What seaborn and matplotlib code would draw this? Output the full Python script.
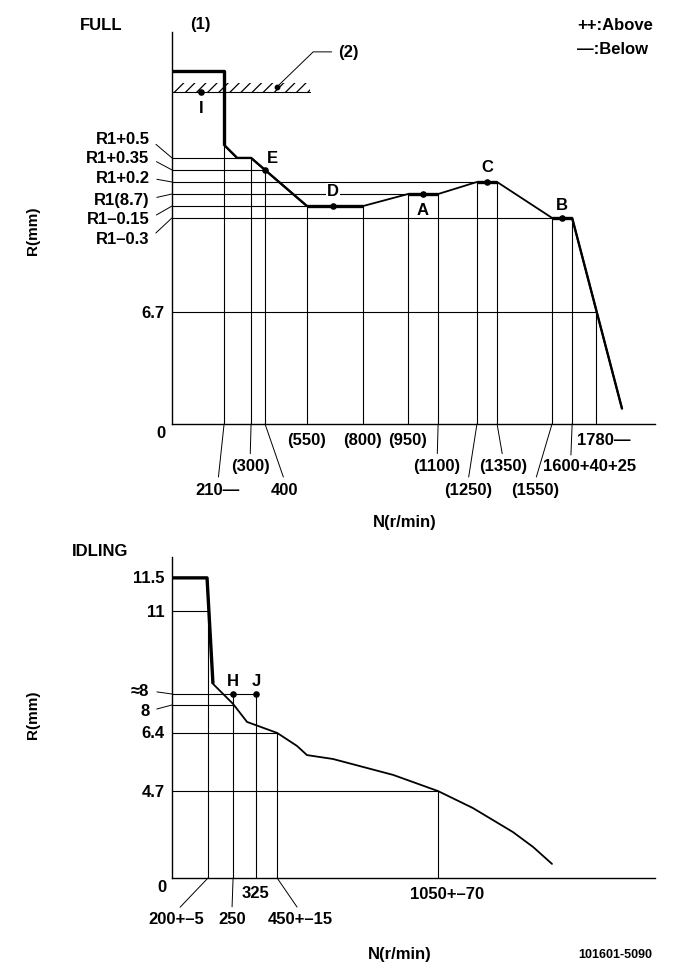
import numpy as np
import pandas as pd
import matplotlib
matplotlib.use('Agg')
import matplotlib.pyplot as plt
import seaborn as sns

# drawing units: x ~ r/min position, y ~ mm position
# ---------------- FULL ----------------
full_n = [0, 220, 220, 275, 334, 393, 570, 680, 807, 997, 1060, 1124,
          1288, 1331, 1373, 1605, 1647, 1690, 1901]
full_r = [21.14, 21.14, 16.71, 15.93, 15.93, 15.21, 13.05, 13.05, 13.05, 13.77, 13.77, 13.77,
          14.49, 14.49, 14.49, 12.34, 12.34, 12.34, 0.9]

full_levels = [15.93, 15.21, 14.49, 13.77, 13.05, 12.34, 6.7]
full_level_ends = [275, 393, 1288, 997, 570, 1605, 1791]
full_level_text = ['R1+0.5', 'R1+0.35', 'R1+0.2', 'R1(8.7)', 'R1–0.15', 'R1–0.3', '6.7']
full_level_text_y = [17.07, 15.93, 14.73, 13.47, 12.28, 11.08, 6.7]

full_speeds = [220, 334, 393, 570, 807, 997, 1124, 1288, 1373, 1605, 1690, 1791]
full_speed_tops = [16.71, 15.93, 15.21, 13.05, 13.05, 13.77, 13.77, 14.49, 14.49, 12.34, 12.34, 6.7]
full_speed_text = ['210—', '(300)', '400', '(550)', '(800)', '(950)', '(1100)', '(1250)',
                   '(1350)', '(1550)', '1600+40+25', '1780—']
full_speed_text_x = [194, 330, 477, 570, 803, 993, 1120, 1250, 1398, 1533, 1763, 1825]
full_speed_row = [3, 2, 3, 1, 1, 1, 2, 3, 2, 3, 2, 1]

full_pt_names = ['I', 'E', 'D', 'A', 'C', 'B']
full_pt_n = [122, 393, 680, 1060, 1331, 1647]
full_pt_r = [19.88, 15.21, 13.05, 13.77, 14.49, 12.34]

stop_r = 19.88
stop_n_end = 583

# ---------------- IDLING ----------------
idle_n = [0, 148, 173, 258, 317, 444, 528, 570, 680, 934, 1124, 1271, 1440, 1525, 1605]
idle_r = [11.5, 11.5, 7.44, 6.67, 5.98, 5.56, 5.06, 4.71, 4.56, 3.95, 3.33, 2.68, 1.76, 1.19, 0.54]

idle_levels = [10.23, 7.05, 6.63, 5.56, 3.33]
idle_level_ends = [152, 355, 258, 444, 1124]
idle_level_text = ['11.5', '11', '≈8', '8', '6.4', '4.7']
idle_level_text_y = [11.5, 10.23, 7.17, 6.40, 5.56, 3.33]

idle_speeds = [152, 258, 355, 444, 1124]
idle_speed_tops = [10.23, 7.05, 7.05, 5.56, 3.33]
idle_speed_text = ['200+–5', '250', '325', '450+–15', '1050+–70']
idle_speed_text_x = [17, 253, 351, 541, 1162]
idle_speed_text_y = [-1.57, -1.57, -0.54, -1.57, -0.61]

idle_pt_names = ['H', 'J']
idle_pt_n = [258, 355]
idle_pt_r = [7.05, 7.05]

# ---------------- style ----------------
sns.set_style('white')
plt.rcParams['font.family'] = ['Liberation Sans', 'DejaVu Sans']
plt.rcParams['font.weight'] = 'bold'
plt.rcParams['text.color'] = 'black'
plt.rcParams['hatch.linewidth'] = 0.9
FS = 12
THIN = 0.8
lead = dict(arrowstyle='-', lw=0.7, color='black', shrinkA=1, shrinkB=0)

W, H = 681, 979
fig = plt.figure(figsize=(6.81, 9.79), dpi=100)
ax1 = fig.add_axes([172 / W, 1 - 425 / H, 483 / W, 392 / H])
ax2 = fig.add_axes([172 / W, 1 - 879 / H, 483 / W, 321 / H])

for ax, top in [(ax1, 23.47), (ax2, 12.30)]:
    ax.set_xlim(0, 2040)
    ax.set_ylim(0, top)
    ax.set_xticks([])
    ax.set_yticks([])
    sns.despine(ax=ax)
    for s in ['left', 'bottom']:
        ax.spines[s].set_color('black')
        ax.spines[s].set_linewidth(1.0)

# ---- FULL panel ----
for y, xe in zip(full_levels, full_level_ends):
    ax1.plot([0, xe], [y, y], color='black', lw=THIN)
for x, yt in zip(full_speeds, full_speed_tops):
    ax1.plot([x, x], [0, yt], color='black', lw=THIN)

sns.lineplot(x=full_n, y=full_r, ax=ax1, sort=False, estimator=None,
             color='black', lw=1.3)
for i0, i1, w in [(0, 2, 2.4), (2, 6, 1.7), (6, 8, 2.4), (9, 11, 2.4),
                  (12, 14, 2.4), (15, 17, 2.4), (17, 18, 1.7)]:
    ax1.plot(full_n[i0:i1 + 1], full_r[i0:i1 + 1], color='black', lw=w,
             solid_capstyle='butt')

# stopper line with hatching
ax1.plot([0, stop_n_end], [stop_r, stop_r], color='black', lw=THIN)
ax1.fill_between([0, stop_n_end], stop_r, stop_r + 0.54, facecolor='none',
                 edgecolor='black', hatch='///', linewidth=0)
ax1.scatter([443], [20.18], s=10, color='black', zorder=5)
ax1.annotate('(2)', xy=(443, 20.18), xytext=(700, 22.28), ha='left', va='center',
             fontsize=FS, annotation_clip=False,
             arrowprops=dict(arrowstyle='-', lw=0.7, color='black', shrinkA=2, shrinkB=0,
                             relpos=(0, 0.5), connectionstyle='angle,angleA=0,angleB=44,rad=0'))

ax1.scatter(full_pt_n, full_pt_r, s=14, color='black', zorder=5)
pt_off = {'I': (0, -11), 'E': (5, 9), 'D': (0, 11), 'A': (0, -11), 'C': (0, 11), 'B': (0, 10)}
for name, x, y in zip(full_pt_names, full_pt_n, full_pt_r):
    dx, dy = pt_off[name]
    t = ax1.annotate(name, (x, y), xytext=(dx, dy), textcoords='offset points',
                     ha='center', va='center', fontsize=FS)
    if name == 'D':
        t.set_bbox(dict(facecolor='white', edgecolor='none', pad=0.5))

for txt, ty, y in zip(full_level_text, full_level_text_y, full_levels):
    if txt == '6.7':
        ax1.text(-30, ty, txt, ha='right', va='center', fontsize=FS)
    else:
        ax1.annotate(txt, xy=(0, y), xytext=(-95, ty), ha='right', va='center',
                     fontsize=FS, annotation_clip=False,
                     arrowprops=dict(lead, relpos=(1, 0.5), shrinkA=3))
ax1.text(-45, -0.5, '0', ha='center', va='center', fontsize=FS)

row_y = {1: -0.9, 2: -2.5, 3: -3.9}
for txt, tx, row, x in zip(full_speed_text, full_speed_text_x, full_speed_row, full_speeds):
    ty = row_y[row]
    if row == 1:
        ax1.text(tx, ty, txt, ha='center', va='center', fontsize=FS)
    elif txt.startswith('1600'):
        ax1.annotate(txt, xy=(x, 0), xytext=(tx, ty), ha='center', va='center',
                     fontsize=FS, annotation_clip=False,
                     arrowprops=dict(lead, relpos=(0.3, 1), shrinkA=0))
    else:
        ax1.annotate(txt, xy=(x, 0), xytext=(tx, ty), ha='center', va='center',
                     fontsize=FS, annotation_clip=False,
                     arrowprops=dict(lead, relpos=(0.5, 1), shrinkA=1))

# ---- IDLING panel ----
for y, xe in zip(idle_levels, idle_level_ends):
    ax2.plot([0, xe], [y, y], color='black', lw=THIN)
for x, yt in zip(idle_speeds, idle_speed_tops):
    ax2.plot([x, x], [0, yt], color='black', lw=THIN)

sns.lineplot(x=idle_n, y=idle_r, ax=ax2, sort=False, estimator=None,
             color='black', lw=1.3)
ax2.plot(idle_n[0:3], idle_r[0:3], color='black', lw=2.4, solid_capstyle='butt')

ax2.scatter(idle_pt_n, idle_pt_r, s=14, color='black', zorder=5)
for name, x, y in zip(idle_pt_names, idle_pt_n, idle_pt_r):
    ax2.annotate(name, (x, y), xytext=(0, 10), textcoords='offset points',
                 ha='center', va='center', fontsize=FS)

lvl_targets = [11.5] + idle_levels
for txt, ty, y in zip(idle_level_text, idle_level_text_y, lvl_targets):
    if txt in ('≈8', '8'):
        ax2.annotate(txt, xy=(0, y), xytext=(-95, ty), ha='right', va='center',
                     fontsize=FS, annotation_clip=False,
                     arrowprops=dict(lead, relpos=(1, 0.5), shrinkA=3))
    else:
        ax2.text(-30, ty, txt, ha='right', va='center', fontsize=FS)
ax2.text(-42, -0.34, '0', ha='center', va='center', fontsize=FS)

for txt, tx, ty, x in zip(idle_speed_text, idle_speed_text_x, idle_speed_text_y, idle_speeds):
    if ty > -1:
        ax2.text(tx, ty, txt, ha='center', va='center', fontsize=FS)
    else:
        ax2.annotate(txt, xy=(x, 0), xytext=(tx, ty), ha='center', va='center',
                     fontsize=FS, annotation_clip=False,
                     arrowprops=dict(lead, relpos=(0.5, 1), shrinkA=1))

# ---- sheet texts ----
fig.text(80 / W, 1 - 25 / H, 'FULL', ha='left', va='center', fontsize=FS)
fig.text(200 / W, 1 - 25 / H, '(1)', ha='center', va='center', fontsize=FS)
fig.text(577 / W, 1 - 26 / H, '++:Above', ha='left', va='center', fontsize=FS)
fig.text(577 / W, 1 - 49 / H, '—:Below', ha='left', va='center', fontsize=FS)
fig.text(33 / W, 1 - 231 / H, 'R(mm)', rotation=90, ha='center', va='center', fontsize=11)
fig.text(405 / W, 1 - 522 / H, 'N(r/min)', ha='center', va='center', fontsize=FS)
fig.text(72 / W, 1 - 552 / H, 'IDLING', ha='left', va='center', fontsize=FS)
fig.text(33 / W, 1 - 715 / H, 'R(mm)', rotation=90, ha='center', va='center', fontsize=11)
fig.text(400 / W, 1 - 955 / H, 'N(r/min)', ha='center', va='center', fontsize=FS)
fig.text(615 / W, 1 - 955 / H, '101601-5090', ha='center', va='center', fontsize=9)

fig.savefig('out.png', dpi=100, facecolor='white')
